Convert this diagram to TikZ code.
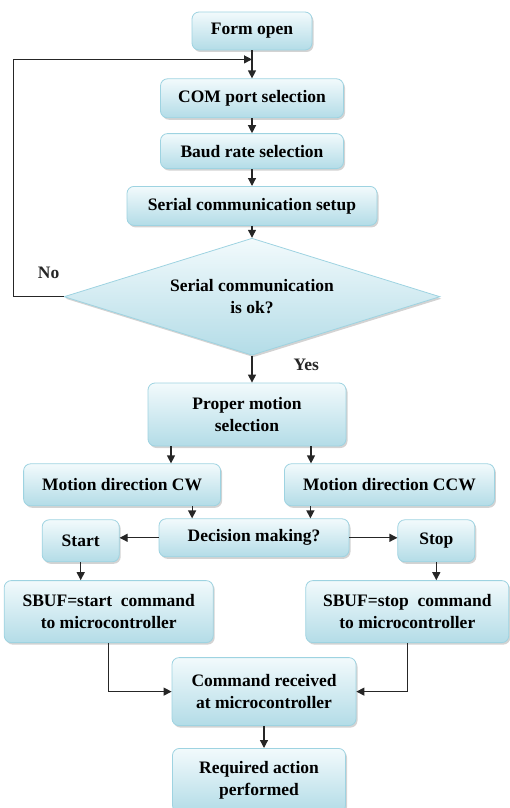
\documentclass[tikz,border=0pt]{standalone}
\usepackage{fontspec}
\setmainfont{Liberation Serif}
\usepackage{tikz}
\usetikzlibrary{shapes.geometric, positioning, arrows.meta, calc, shadows}
\definecolor{boxline}{HTML}{9ED3E1}
\definecolor{boxtop}{HTML}{F2FAFC}
\definecolor{boxbottom}{HTML}{B3DCE7}

\begin{document}
\begin{tikzpicture}[x=1pt, y=1pt,
        % Define block styles
        process/.style={draw=boxline, line width=0.8pt, rectangle, rounded corners=7pt, top color=boxtop, bottom color=boxbottom, drop shadow={shadow xshift=1.5pt, shadow yshift=-2pt, opacity=0.35}, align=center, inner sep=2pt, font=\bfseries\fontsize{17.5}{22.5}\selectfont},
        decision/.style={process, diamond, sharp corners, aspect=3.2, inner sep=0pt},
        lbl/.style={inner sep=1pt, font=\bfseries\fontsize{17.5}{22.5}\selectfont},
        arrow/.style={draw, ->, >={Triangle[length=8pt, width=8pt]}, line width=1.2pt, black!85}
    ]
    \useasboundingbox (0,0) rectangle (510,-808);

    % --- Nodes Placement ---
    \node[process, minimum width=120pt, minimum height=38pt] (form) at (252,-31) {Form open};
    \node[process, below=28pt of form, minimum width=183pt, minimum height=39pt] (com) {COM port selection};
    \node[process, below=15pt of com, minimum width=183pt, minimum height=35pt] (baud) {Baud rate selection};
    \node[process, below=17pt of baud, minimum width=250pt, minimum height=39pt] (setup) {Serial communication setup};

    % Anchor point where the "No" loop comes back in
    \coordinate[below=9pt of form] (loop_in);

    \node[decision, below=12pt of setup, minimum width=376pt, minimum height=117pt] (commok) {Serial communication\\is ok?};

    \node[process, below=27pt of commok, xshift=-5pt, minimum width=198pt, minimum height=63pt] (motion) {Proper motion\\selection};

    % Two directions below the motion box
    \node[process, below left=17pt and 26pt of motion.south, minimum width=197pt, minimum height=42pt] (cw) {Motion direction CW};
    \node[process, below right=17pt and 37pt of motion.south, minimum width=210pt, minimum height=42pt] (ccw) {Motion direction CCW};

    \node[process, below=72pt of motion, xshift=7pt, minimum width=190pt, minimum height=38pt] (decide) {Decision making?};
    \node[process, left=39pt of decide, yshift=-3pt, minimum width=77pt, minimum height=42pt] (start) {Start};
    \node[process, right=48pt of decide, yshift=-3pt, minimum width=77pt, minimum height=42pt] (stop) {Stop};

    \node[process, below=18pt of start, xshift=28pt, minimum width=209pt, minimum height=62pt] (sbufstart) {SBUF=start\ \ command\\to microcontroller};
    \node[process, below=18pt of stop, xshift=-29pt, minimum width=203pt, minimum height=62pt] (sbufstop) {SBUF=stop\ \ command\\to microcontroller};

    \node[process, below=100pt of decide, xshift=10pt, minimum width=184pt, minimum height=68pt] (received) {Command received\\at microcontroller};
    \node[process, below=22pt of received, xshift=-5pt, minimum width=173pt, minimum height=64pt] (action) {Required action\\performed};

    % --- Connections / Arrows ---
    \draw[arrow] (form) -- (com);
    \draw[arrow] (com) -- (baud);
    \draw[arrow] (baud) -- (setup);
    \draw[arrow] (setup) -- (commok);

    % Not ok: back to the port selection
    \draw[arrow] (commok.west) -- node[lbl, above=16pt, pos=0.3] {No} ++(-50pt,0) |- (loop_in);
    \draw[arrow] (commok.south) -- node[lbl, right=40pt, pos=0.35] {Yes} (commok.south |- motion.north);

    \draw[arrow] ([xshift=-76pt]motion.south) -- ([xshift=-76pt]motion.south |- cw.north);
    \draw[arrow] ([xshift=64pt]motion.south) -- ([xshift=64pt]motion.south |- ccw.north);
    \draw[arrow] ([xshift=70pt]cw.south) -- ([xshift=70pt]cw.south |- decide.north);
    \draw[arrow] ([xshift=-79pt]ccw.south) -- ([xshift=-79pt]ccw.south |- decide.north);

    \draw[arrow] (decide.west) -- (decide.west -| start.east);
    \draw[arrow] (decide.east) -- (decide.east -| stop.west);
    \draw[arrow] (start.south) -- (start.south |- sbufstart.north);
    \draw[arrow] (stop.south) -- (stop.south |- sbufstop.north);

    % Both commands meet at the controller
    \draw[arrow] (sbufstart.south) |- (received.west);
    \draw[arrow] (sbufstop.south) |- (received.east);
    \draw[arrow] (received.south) -- (received.south |- action.north);

\end{tikzpicture}
\end{document}
